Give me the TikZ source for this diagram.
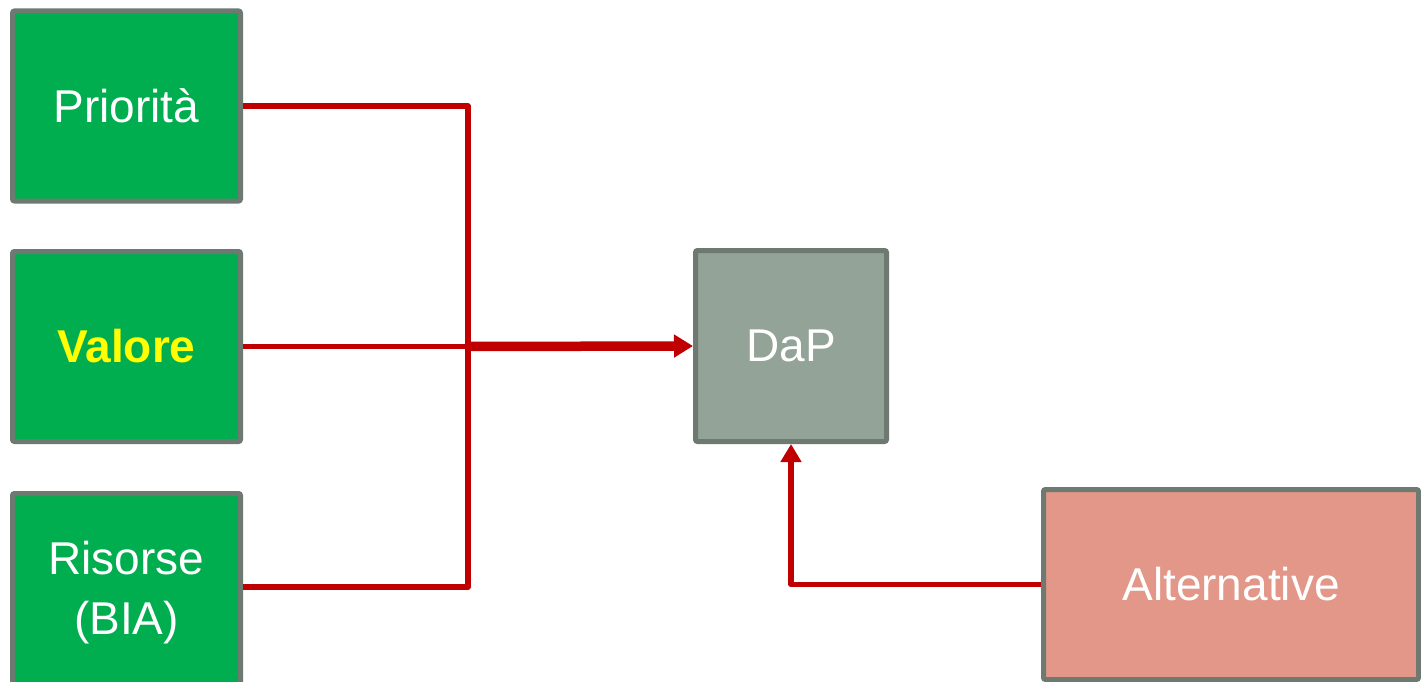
\documentclass[tikz,border=0pt]{standalone}
\usepackage{fontspec}
\setmainfont{Liberation Sans}
\usetikzlibrary{arrows.meta}
\definecolor{boxgreen}{HTML}{00AE4F}
\definecolor{boxborder}{HTML}{6E7A71}
\definecolor{dapfill}{HTML}{93A397}
\definecolor{altfill}{HTML}{E29788}
\definecolor{linered}{HTML}{C00000}
\definecolor{valyellow}{HTML}{FFFF00}
\tikzset{
  box/.style={draw=boxborder, line width=5pt, rounded corners=2pt, text=white, align=center,
    font=\fontsize{46}{60}\selectfont, inner sep=0pt},
  greenbox/.style={box, fill=boxgreen, minimum width=228pt, minimum height=190pt},
  redline/.style={draw=linered, line width=5.5pt, line join=round},
  thickred/.style={draw=linered, line width=9.5pt, -{Triangle[length=19pt,width=22pt]}},
  redarrow/.style={redline, -{Triangle[length=18pt,width=20pt]}}
}
\begin{document}
\begin{tikzpicture}[x=1pt,y=-1pt]
\useasboundingbox (0,0) rectangle (1421,682);
\fill[white] (0,0) rectangle (1421,682);
\node[greenbox] (pri) at (126.5,106) {Priorità};
\node[greenbox] (val) at (126.5,346.5) {\textcolor{valyellow}{\bfseries Valore}};
\node[greenbox, minimum height=199pt] (ris) at (126.5,593) {Risorse\\(BIA)};
\node[box, fill=dapfill, minimum width=191pt, minimum height=191pt] (dap) at (791,346) {DaP};
\node[box, fill=altfill, minimum width=375pt, minimum height=190pt] (alt) at (1231,584.5) {Alternative};
\coordinate (jt) at (468,106);
\coordinate (jm) at (466,346.5);
\coordinate (jb) at (468,587);
\draw[redline] (pri.east) -- (jt) -- (jb) -- (ris.east |- jb);
\draw[redline] (val.east) -- (jm);
\draw[thickred] (jm) -- (dap.west);
\draw[redarrow] (alt.west) -| (dap.south);
\end{tikzpicture}
\end{document}
